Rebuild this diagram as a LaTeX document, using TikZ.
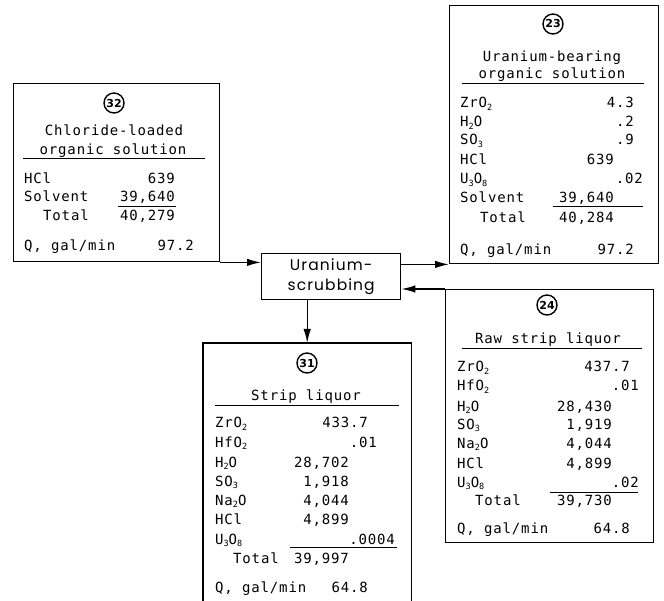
\documentclass[tikz,border=0pt]{standalone}
\usepackage{fontspec}
\usetikzlibrary{arrows.meta}
\newfontfamily\tw[LetterSpace=6]{DejaVu Sans Mono}
\newfontfamily\geo[LetterSpace=7]{Poppins}
\newfontfamily\cnum{DejaVu Sans}
\newcommand{\sbs}[1]{\raisebox{-0.35ex}{\fontsize{8.5}{8.5}\selectfont #1}}
\begin{document}
\begin{tikzpicture}[x=1pt,y=-1pt,
  box/.style={draw, line width=1.4pt, inner sep=0},
  txt/.style={font={\tw\fontsize{14}{16}\selectfont}, inner sep=0},
  lbl/.style={txt, anchor=base west},
  val/.style={txt, anchor=base east},
  hdr/.style={txt, anchor=base},
  num/.style={draw, circle, line width=1.4pt, minimum size=20pt, inner sep=0, font={\cnum\bfseries\fontsize{11}{11}\selectfont}},
  uline/.style={line width=1pt},
  flow/.style={line width=1.4pt, -{Latex[length=14pt,width=7.5pt]}}]
\useasboundingbox (0,0) rectangle (664,601);
% process box
\node[box, minimum width=139pt, minimum height=46pt, anchor=north west, align=center,
  font={\geo\fontsize{15.5}{20}\selectfont}] (scrub) at (261,253) {Uranium-\\scrubbing};
% ---------- stream 32
\node[box, minimum width=206pt, minimum height=178pt, anchor=north west] (b32) at (13,83) {};
\node[num] (n32) at (114,103) {32};
\node[hdr] (h32a) at (114,136) {Chloride-loaded};
\node[hdr] (h32b) at (113,155) {organic solution};
\draw[uline] (23,159) -- (205,159);
\node[lbl] (r32a) at (24,184) {HCl};       \node[val] (v32a) at (175,184) {639};
\node[lbl] (r32b) at (24,202) {Solvent};   \node[val] (v32b) at (175,202) {39,640};
\draw[uline] (118,207) -- (176,207);
\node[lbl] (r32c) at (43,221) {Total};     \node[val] (v32c) at (175,221) {40,279};
\node[lbl] (r32d) at (24,251) {Q, gal/min};\node[val] (v32d) at (194,251) {97.2};
% ---------- stream 23
\node[box, minimum width=209pt, minimum height=258pt, anchor=north west] (b23) at (449,5) {};
\node[num] (n23) at (553,24) {23};
\node[hdr] (h23a) at (552,62) {Uranium-bearing};
\node[hdr] (h23b) at (552,79) {organic solution};
\draw[uline] (462,84) -- (644,84);
\node[lbl] (r23a) at (460,108) {ZrO\sbs{2}};        \node[val] (v23a) at (634,108) {4.3};
\node[lbl] (r23b) at (460,127) {H\sbs{2}O};         \node[val] (v23b) at (634,127) {.2};
\node[lbl] (r23c) at (460,145) {SO\sbs{3}};         \node[val] (v23c) at (634,145) {.9};
\node[lbl] (r23d) at (460,165) {HCl};               \node[val] (v23d) at (614,165) {639};
\node[lbl] (r23e) at (460,184) {U\sbs{3}O\sbs{8}};  \node[val] (v23e) at (643,184) {.02};
\node[lbl] (r23f) at (460,203) {Solvent};           \node[val] (v23f) at (614,203) {39,640};
\draw[uline] (553,207) -- (643,207);
\node[lbl] (r23g) at (480,223) {Total};             \node[val] (v23g) at (614,223) {40,284};
\node[lbl] (r23h) at (460,255) {Q, gal/min};        \node[val] (v23h) at (634,255) {97.2};
% ---------- stream 24
\node[box, minimum width=208pt, minimum height=253pt, anchor=north west] (b24) at (445,289) {};
\node[num] (n24) at (547,305) {24};
\node[hdr] (h24a) at (548,344) {Raw strip liquor};
\draw[uline] (462,349) -- (642,349);
\node[lbl] (r24a) at (457,372) {ZrO\sbs{2}};        \node[val] (v24a) at (630,372) {437.7};
\node[lbl] (r24b) at (457,391) {HfO\sbs{2}};        \node[val] (v24b) at (639,391) {.01};
\node[lbl] (r24c) at (457,411) {H\sbs{2}O};         \node[val] (v24c) at (612,411) {28,430};
\node[lbl] (r24d) at (457,429) {SO\sbs{3}};         \node[val] (v24d) at (612,429) {1,919};
\node[lbl] (r24e) at (457,448) {Na\sbs{2}O};        \node[val] (v24e) at (612,448) {4,044};
\node[lbl] (r24f) at (457,468) {HCl};               \node[val] (v24f) at (612,468) {4,899};
\node[lbl] (r24g) at (457,487) {U\sbs{3}O\sbs{8}};  \node[val] (v24g) at (639,487) {.02};
\draw[uline] (550,492) -- (638,492);
\node[lbl] (r24h) at (475,505) {Total};             \node[val] (v24h) at (612,505) {39,730};
\node[lbl] (r24i) at (457,533) {Q, gal/min};        \node[val] (v24i) at (630,533) {64.8};
% ---------- stream 31 (box runs off the bottom)
\node[minimum width=208pt, minimum height=258pt, inner sep=0, anchor=north west] (b31) at (203,343) {};
\draw[line width=1.4pt] (b31.south west) -- (b31.north west) -- (b31.north east) -- (b31.south east);
\node[num] (n31) at (307,363) {31};
\node[hdr] (h31a) at (306,401) {Strip liquor};
\draw[uline] (215,406) -- (399,406);
\node[lbl] (r31a) at (215,428) {ZrO\sbs{2}};        \node[val] (v31a) at (368,428) {433.7};
\node[lbl] (r31b) at (215,447) {HfO\sbs{2}};        \node[val] (v31b) at (377,447) {.01};
\node[lbl] (r31c) at (215,467) {H\sbs{2}O};         \node[val] (v31c) at (349,467) {28,702};
\node[lbl] (r31d) at (215,486) {SO\sbs{3}};         \node[val] (v31d) at (349,486) {1,918};
\node[lbl] (r31e) at (215,505) {Na\sbs{2}O};        \node[val] (v31e) at (349,505) {4,044};
\node[lbl] (r31f) at (215,524) {HCl};               \node[val] (v31f) at (349,524) {4,899};
\node[lbl] (r31g) at (215,544) {U\sbs{3}O\sbs{8}};  \node[val] (v31g) at (395,544) {.0004};
\draw[uline] (290,547) -- (397,547);
\node[lbl] (r31h) at (233,563) {Total};             \node[val] (v31h) at (349,563) {39,997};
\node[lbl] (r31i) at (215,592) {Q, gal/min};        \node[val] (v31i) at (368,592) {64.8};
% ---------- flows
\draw[flow] (b32.south east) -- (b32.south east -| scrub.west);
\draw[flow] (scrub.east |- b23.south west) -- (b23.south west);
\draw[flow] (b24.north west) -- (b24.north west -| scrub.east);
\draw[flow] (scrub.south -| b31.north) -- (b31.north);
\end{tikzpicture}
\end{document}
